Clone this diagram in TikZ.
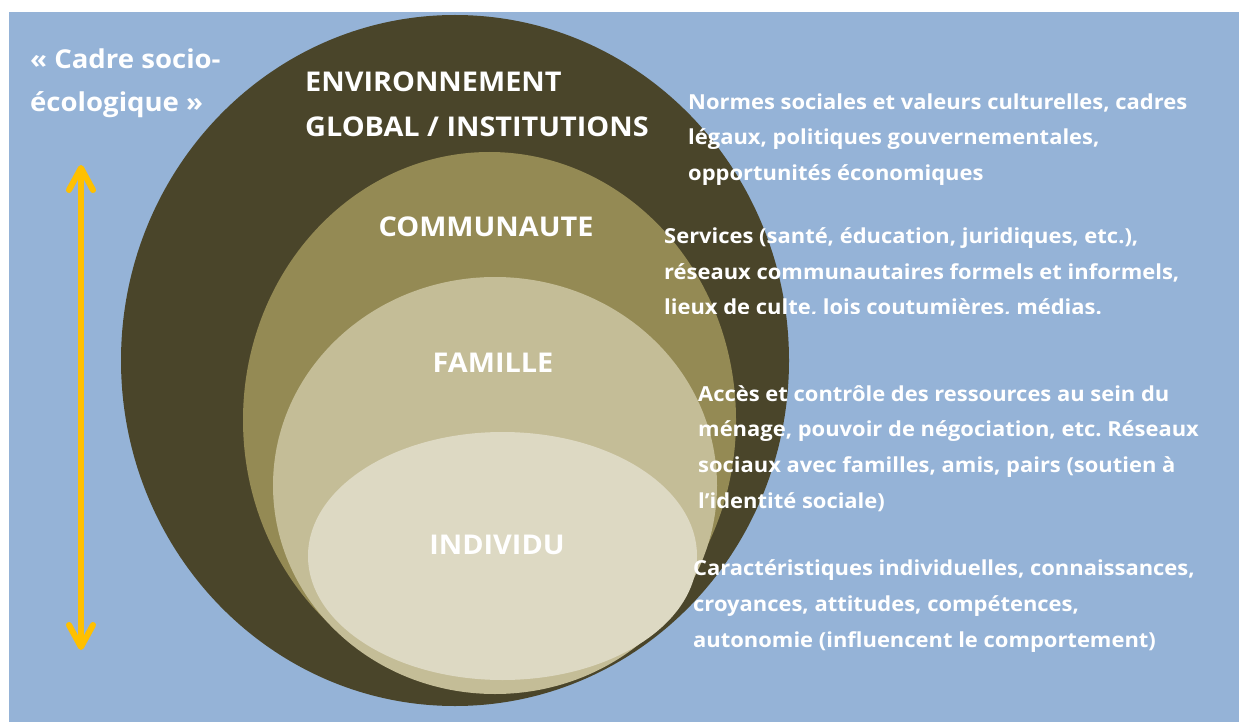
\documentclass[tikz,border=0pt]{standalone}
\usepackage{fontspec}
\setmainfont{Open Sans}[FakeStretch=1.06]
\usepackage{xcolor}
\usepackage{tikz}
\usetikzlibrary{arrows.meta, positioning}
\frenchspacing

\definecolor{skyblue}{HTML}{95B3D7}
\definecolor{earthdark}{HTML}{4A452A}
\definecolor{olivemid}{HTML}{948A54}
\definecolor{sandtan}{HTML}{C4BD97}
\definecolor{creamlight}{HTML}{DDD9C3}
\definecolor{amber}{HTML}{FFC000}

\begin{document}
\begin{tikzpicture}[
    x=1pt, y=-1pt,
    title/.style={font=\fontsize{26}{43}\selectfont\bfseries, text=white, inner sep=0pt, align=left, anchor=west},
    layer/.style={font=\fontsize{27.2}{45}\selectfont\bfseries, text=white, inner sep=0pt, align=left},
    note/.style={font=\fontsize{20.7}{35.7}\selectfont\bfseries, text=white, inner sep=0pt, align=left, anchor=west},
    levelarrow/.style={draw=amber, line width=6pt, line cap=round,
        {Straight Barb[length=22pt, width=24pt, round]}-{Straight Barb[length=22pt, width=24pt, round]}}
]

% Frame and background
\useasboundingbox (0,0) rectangle (1239,722);
\fill[skyblue] (9,12) rectangle (1239,722);

% Nested levels, outermost first
\fill[earthdark]  (455,360.5) ellipse [x radius=334, y radius=345.5];
\fill[olivemid]   (489.5,420) ellipse [x radius=246.5, y radius=268];
\fill[sandtan]    (495,485.5) ellipse [x radius=222, y radius=208.5];
\fill[creamlight] (502.5,556) ellipse [x radius=194.5, y radius=124];

% Title and scale arrow
\node[title] (cadre) at (30,83.5) {« Cadre socio-\\écologique »};
\coordinate (arrowtop) at (81,165);
\coordinate (arrowbot) at (81,650);
\draw[levelarrow] (arrowtop) -- (arrowbot);

% Level names
\node[layer, anchor=west] (global) at (305,104.5) {ENVIRONNEMENT\\GLOBAL / INSTITUTIONS};
\node[layer] (community) at (486,227) {COMMUNAUTE};
\node[layer] (family) at (493,363) {FAMILLE};
\node[layer] (individual) at (497,545) {INDIVIDU};

% Descriptions of each level
\node[note] (globalnote) at (688,139.5) {Normes sociales et valeurs culturelles, cadres\\légaux, politiques gouvernementales,\\opportunités économiques};
\begin{scope}
  \clip (600,200) rectangle (1239,313);
  \node[note] (communitynote) at (664,272.5) {Services (santé, éducation, juridiques, etc.),\\réseaux communautaires formels et informels,\\lieux de culte, lois coutumières, médias.};
\end{scope}
\node[note] (familynote) at (698,448.5) {Accès et contrôle des ressources au sein du\\ménage, pouvoir de négociation, etc. Réseaux\\sociaux avec familles, amis, pairs (soutien à\\l’identité sociale)};
\node[note] (individualnote) at (693,606) {Caractéristiques individuelles, connaissances,\\croyances, attitudes, compétences,\\autonomie (influencent le comportement)};

\end{tikzpicture}
\end{document}
